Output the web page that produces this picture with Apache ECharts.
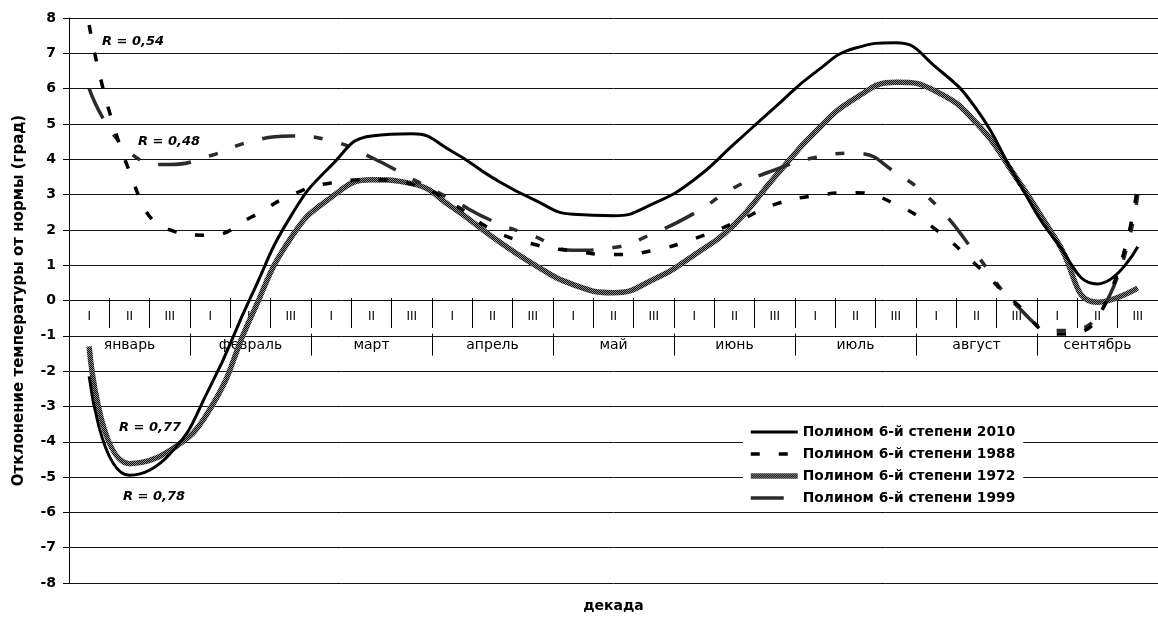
<!DOCTYPE html>
<html>
<head>
<meta charset="utf-8">
<script src="https://cdn.jsdelivr.net/npm/echarts@6/dist/echarts.min.js"></script>
<style>
  html, body { margin: 0; padding: 0; background: #fff; }
  #chart { width: 1158px; height: 618px; }
</style>
</head>
<body>
<div id="chart"></div>
<script>
// Months and their ten-day periods (декады)
const months = ['январь', 'февраль', 'март', 'апрель', 'май', 'июнь', 'июль', 'август', 'сентябрь'];
const decades = ['I', 'II', 'III'];
const decadeCats = months.flatMap(m => decades.map(d => m + '|' + d));

// 6th-degree polynomial trends of the temperature anomaly, one value per decade
const y2010 = [-2.15, -4.95, -4.35, -2.44, 0.08, 2.39, 3.82, 4.66, 4.72, 4.22, 3.48, 2.87, 2.44, 2.4, 2.75,
  3.42, 4.44, 5.47, 6.46, 7.15, 7.3, 6.6, 5.42, 3.43, 1.63, 0.47, 1.52];
const y1988 = [7.8, 3.65, 2.0, 1.85, 2.35, 2.98, 3.33, 3.42, 3.3, 2.75, 2.0, 1.6, 1.4, 1.3, 1.42,
  1.75, 2.2, 2.72, 2.97, 3.05, 2.72, 2.0, 1.0, -0.1, -0.95, -0.5, 3.3];
const y1972 = [-1.3, -4.62, -4.25, -3.07, -0.5, 1.77, 2.92, 3.42, 3.31, 2.64, 1.8, 1.04, 0.45, 0.22, 0.6,
  1.29, 2.16, 3.5, 4.77, 5.73, 6.18, 5.92, 5.02, 3.45, 1.68, -0.05, 0.35];
const y1999 = [6.0, 4.2, 3.85, 4.1, 4.5, 4.66, 4.52, 4.05, 3.45, 2.85, 2.25, 1.83, 1.42, 1.5, 1.91,
  2.47, 3.2, 3.7, 4.05, 4.17, 3.62, 2.7, 1.3, -0.15, -0.85, -0.45, 3.0];

const seriesNames = ['Полином 6-й степени 2010', 'Полином 6-й степени 1988',
  'Полином 6-й степени 1972', 'Полином 6-й степени 1999'];
const rLabels = ['R = 0,54', 'R = 0,48', 'R = 0,77', 'R = 0,78'];

// speckled grey fill used for the 1972 curve
function speckle() {
  const c = document.createElement('canvas');
  c.width = 2; c.height = 2;
  const g = c.getContext('2d');
  g.fillStyle = '#0e0e0e'; g.fillRect(0, 0, 2, 2);
  g.fillStyle = '#8c8c8c'; g.fillRect(0, 0, 1, 1); g.fillRect(1, 1, 1, 1);
  return c;
}

const FONT = 'DejaVu Sans';
const chart = echarts.init(document.getElementById('chart'), null, { renderer: 'canvas' });

const rFont = 'italic bold 13px "DejaVu Sans"';

chart.setOption({
  animation: false,
  backgroundColor: '#fff',
  grid: { left: 69, top: 18, width: 1102, height: 570, containLabel: false },
  xAxis: [
    { // decade row, sits on the zero line
      type: 'category', data: decadeCats, position: 'bottom', offset: -285, boundaryGap: true,
      axisLine: { show: false, onZero: false },
      axisTick: { show: true, interval: 0, length: 30, lineStyle: { color: '#000', width: 1 } },
      axisLabel: { interval: 0, margin: 13, color: '#000', fontFamily: FONT, fontSize: 12,
        formatter: v => v.split('|')[1] },
      splitLine: { show: false }
    },
    { // month row, hangs from the -1 grid line
      type: 'category', data: months, position: 'bottom', offset: -249.375, boundaryGap: true,
      axisLine: { show: false, onZero: false },
      axisTick: { show: true, interval: 0, length: 22, lineStyle: { color: '#000', width: 1 } },
      axisLabel: { interval: 0, margin: 5, color: '#000', fontFamily: FONT, fontSize: 14 },
      splitLine: { show: false }
    },
    { // axis title
      type: 'category', data: decadeCats, position: 'bottom', offset: 0,
      axisLine: { show: false, onZero: false }, axisTick: { show: false }, axisLabel: { show: false },
      name: 'декада', nameLocation: 'middle', nameGap: 16,
      nameTextStyle: { color: '#000', fontFamily: FONT, fontWeight: 'bold', fontSize: 14 }
    }
  ],
  yAxis: {
    type: 'value', min: -8, max: 8, interval: 1,
    axisLine: { show: true, onZero: false, lineStyle: { color: '#000', width: 1 } },
    axisTick: { show: true, length: 6, lineStyle: { color: '#000' } },
    axisLabel: { margin: 13, color: '#000', fontFamily: FONT, fontWeight: 'bold', fontSize: 14 },
    splitLine: { show: true, lineStyle: { color: '#111', width: 1 } },
    name: 'Отклонение температуры от нормы (град)', nameLocation: 'middle', nameRotate: 90, nameGap: 42,
    nameTextStyle: { color: '#000', fontFamily: FONT, fontWeight: 'bold', fontSize: 15 }
  },
  legend: {
    orient: 'vertical', left: 743, top: 421,
    itemWidth: 47, itemHeight: 14, itemGap: 8,
    padding: [4, 8, 4, 5],
    backgroundColor: '#fff',
    selectedMode: false,
    itemStyle: { opacity: 0, borderWidth: 0 },
    lineStyle: { width: 'inherit', type: 'inherit', color: 'inherit' },
    textStyle: { color: '#000', fontFamily: FONT, fontWeight: 'bold', fontSize: 13.8 },
    data: seriesNames
  },
  series: [
    { name: seriesNames[2], type: 'line', data: y1972, smooth: true, symbol: 'none',
      lineStyle: { color: { image: speckle(), repeat: 'repeat' }, width: 5.5 },
      itemStyle: { color: '#555' }, z: 2 },
    { name: seriesNames[3], type: 'line', data: y1999, smooth: true, symbol: 'none',
      lineStyle: { color: '#2b2b2b', width: 3.5, type: [33, 19, 9, 19, 9, 19] },
      itemStyle: { color: '#2b2b2b' }, z: 3 },
    { name: seriesNames[1], type: 'line', data: y1988, smooth: true, symbol: 'none',
      lineStyle: { color: '#000', width: 3.5, type: [9, 19] },
      itemStyle: { color: '#000' }, z: 4 },
    { name: seriesNames[0], type: 'line', data: y2010, smooth: true, symbol: 'none',
      lineStyle: { color: '#000', width: 3 },
      itemStyle: { color: '#000' }, z: 5 }
  ],
  graphic: [
    { type: 'text', left: 102, top: 35, z: 10, style: { text: rLabels[0], font: rFont, fill: '#000' } },
    { type: 'text', left: 138, top: 135, z: 10, style: { text: rLabels[1], font: rFont, fill: '#000' } },
    { type: 'text', left: 119, top: 421, z: 10, style: { text: rLabels[2], font: rFont, fill: '#000' } },
    { type: 'text', left: 123, top: 490, z: 10, style: { text: rLabels[3], font: rFont, fill: '#000' } }
  ]
});
</script>
</body>
</html>
